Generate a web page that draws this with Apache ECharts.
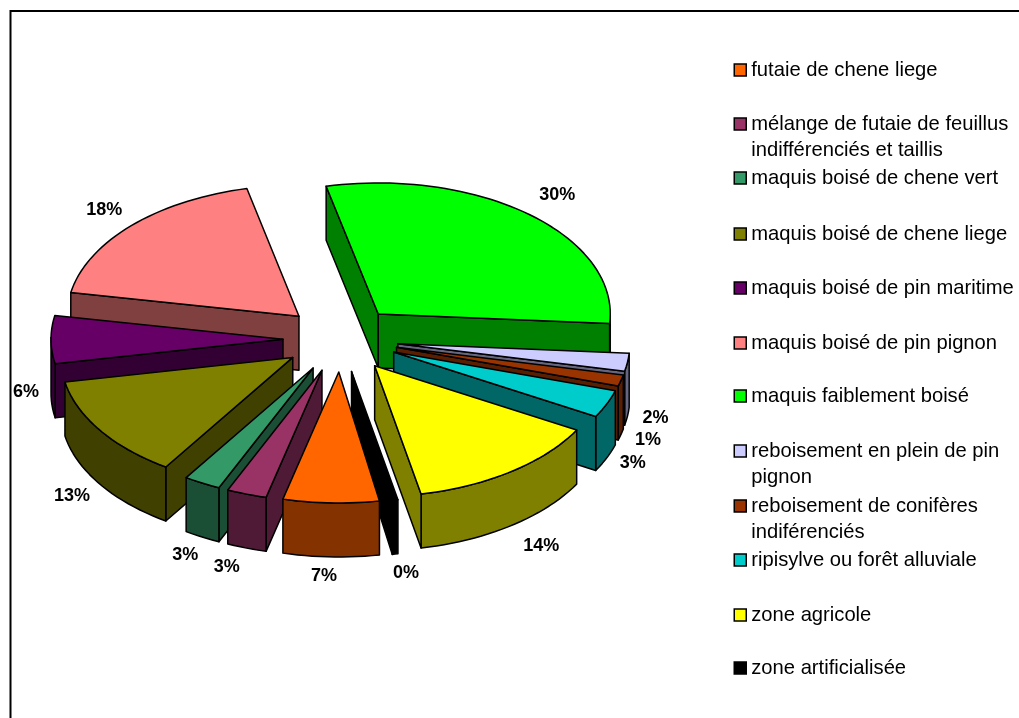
<!DOCTYPE html>
<html>
<head>
<meta charset="utf-8">
<style>html,body{margin:0;padding:0;background:#fff}#chart{width:1019px;height:718px}</style>
<script src="https://cdn.jsdelivr.net/npm/echarts@6/dist/echarts.min.js"></script>
</head>
<body>
<div id="chart"></div>
<script>
// ---- data -------------------------------------------------------------
const categories = [
  'futaie de chene liege',
  'mélange de futaie de feuillus indifférenciés et taillis',
  'maquis boisé de chene vert',
  'maquis boisé de chene liege',
  'maquis boisé de pin maritime',
  'maquis boisé de pin pignon',
  'maquis faiblement boisé',
  'reboisement en plein de pin pignon',
  'reboisement de conifères indiférenciés',
  'ripisylve ou forêt alluviale',
  'zone agricole',
  'zone artificialisée'
];
const shares = [6.67, 2.78, 2.56, 12.75, 5.9, 18.49, 29.75, 2.2, 1.4, 3.4, 13.6, 0.4];
const percentLabels = ['7%', '3%', '3%', '13%', '6%', '18%', '30%', '2%', '1%', '3%', '14%', '0%'];

// ---- styles -----------------------------------------------------------
const topColors  = ['#ff6600','#993366','#339966','#808000','#660066','#ff8080','#00ff00','#ccccff','#993300','#00cccc','#ffff00','#000000'];
const sideColors = ['#843200','#4f1a35','#1a4f35','#404000','#330033','#804040','#008000','#666680','#5a1e00','#006666','#808000','#000000'];

// ---- layout -----------------------------------------------------------
const CX = 340.7, CY = 339;      // pie centre on the page
const RX = 232, RY = 131;        // top ellipse
const EXPLODE = 57.7, EXPLODE_Y = 33; // how far slices are pulled out
const DEPTH = 54;                // extrusion
const START_DEG = 169.9;         // angle of first slice, clockwise from top
const labelNudge = [[-7,73],[-20,73],[-17,72],[-28,66],[-25,52],[-27,-16],[28,-19],[28,56],[27,59],[26,59],[30,74],[11,73]];
const legendRowY = [70,124,178,234,288,343,396,451,506,560,615,668];
const legendLeft = 733.5, iconSize = 12;
const legendFont = 20.2, legendLine = 26;

// ---- geometry from the values -----------------------------------------
const total = shares.reduce((a, b) => a + b, 0);
const slices = [];
shares.reduce((acc, v, i) => {
  const a0 = START_DEG + acc / total * 360, a1 = START_DEG + (acc + v) / total * 360;
  slices[i] = {a0, a1, mid: (a0 + a1) / 2};
  return acc + v;
}, 0);
const rad = d => d * Math.PI / 180;
const drawOrder = categories.map((_, i) => i)
  .sort((p, q) => Math.cos(rad(slices[q].mid)) - Math.cos(rad(slices[p].mid)));

function wrapLines(name) {
  const lines = []; let cur = '';
  name.split(' ').forEach(w => {
    const t = cur ? cur + ' ' + w : w;
    if (t.length > 29) { lines.push(cur); cur = w; } else cur = t;
  });
  lines.push(cur);
  return lines;
}
// a leading blank line keeps the first text line level with the legend icon
function legendText(name) {
  const lines = wrapLines(name);
  return lines.length > 1 ? '\n' + lines.join('\n') : lines[0];
}

function renderSlice(i, value) {
  const s = slices[i];
  const span = value / total * 360;
  const ax = CX + EXPLODE * Math.sin(rad(s.mid));
  const ay = CY - EXPLODE_Y * Math.cos(rad(s.mid));
  const steps = Math.max(2, Math.ceil(span / 2));
  const arc = [];
  for (let k = 0; k <= steps; k++) {
    const t = rad(s.a0 + span * k / steps);
    arc.push([ax + RX * Math.sin(t), ay - RY * Math.cos(t)]);
  }
  const down = p => [p[0], p[1] + DEPTH];
  const poly = pts => ({
    type: 'polygon', silent: true, shape: {points: pts},
    style: {fill: sideColors[i], stroke: '#000', lineWidth: 1.5, lineJoin: 'round'}
  });
  const children = [];
  const apex = [ax, ay];
  // walls facing the viewer: edges that run leftwards on a clockwise outline
  if (arc[0][0] < ax) children.push(poly([apex, arc[0], down(arc[0]), down(apex)]));
  let run = [];
  const flush = () => {
    if (run.length > 1) children.push(poly(run.concat(run.map(down).reverse())));
    run = [];
  };
  for (let k = 0; k < arc.length - 1; k++) {
    if (arc[k + 1][0] < arc[k][0]) {
      if (!run.length) run.push(arc[k]);
      run.push(arc[k + 1]);
    } else flush();
  }
  flush();
  const last = arc[arc.length - 1];
  if (ax < last[0]) children.push(poly([last, apex, down(apex), down(last)]));
  children.push({
    type: 'polygon', silent: true, shape: {points: [apex].concat(arc)},
    style: {fill: topColors[i], stroke: '#000', lineWidth: 1.5, lineJoin: 'round'}
  });
  const m = rad(s.mid);
  children.push({
    type: 'text', silent: true, z2: 100,
    style: {
      text: percentLabels[i],
      x: CX + (EXPLODE + RX) * Math.sin(m) + labelNudge[i][0],
      y: CY - (EXPLODE_Y + RY) * Math.cos(m) + labelNudge[i][1],
      align: 'center', verticalAlign: 'middle', fill: '#000',
      font: 'bold 18px "Liberation Sans", Arial, sans-serif'
    }
  });
  return {type: 'group', children};
}

const chart = echarts.init(document.getElementById('chart'), null, {renderer: 'canvas'});
chart.setOption({
  animation: false,
  backgroundColor: '#fff',
  tooltip: {show: false},
  graphic: [{
    type: 'rect', silent: true,
    shape: {x: 10.5, y: 11, width: 1200, height: 900},
    style: {fill: 'none', stroke: '#000', lineWidth: 2}
  }],
  legend: categories.map((name, i) => {
    const rows = legendText(name).split('\n').length;
    return {
      data: [{name, icon: 'rect', itemStyle: {color: topColors[i], borderColor: '#000', borderWidth: 1.5}}],
      left: legendLeft,
      top: legendRowY[i] - rows * legendLine / 2,
      padding: 0,
      selectedMode: false,
      itemWidth: iconSize, itemHeight: iconSize,
      formatter: legendText,
      textStyle: {
        fontFamily: '"Liberation Sans", Arial, sans-serif',
        fontSize: legendFont, lineHeight: legendLine, color: '#000'
      }
    };
  }),
  series: drawOrder.map(i => ({
    type: 'custom',
    name: categories[i],
    coordinateSystem: 'none',
    silent: true,
    itemStyle: {color: topColors[i]},
    data: [[shares[i]]],
    renderItem: (params, api) => renderSlice(i, api.value(0))
  }))
});
</script>
</body>
</html>
